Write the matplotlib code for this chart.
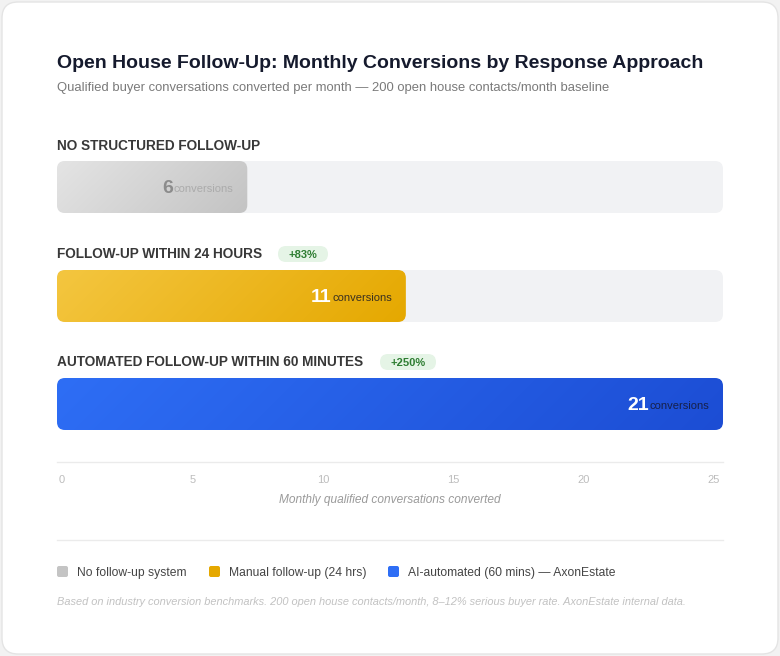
import matplotlib
matplotlib.use("Agg")
import matplotlib.pyplot as plt
import numpy as np
from matplotlib.patches import FancyBboxPatch
from matplotlib.colors import LinearSegmentedColormap

plt.rcParams['font.family'] = ['Liberation Sans', 'DejaVu Sans']

# ---------------- data ----------------
categories = ["NO STRUCTURED FOLLOW-UP", "FOLLOW-UP WITHIN 24 HOURS",
              "AUTOMATED FOLLOW-UP WITHIN 60 MINUTES"]
values = [6, 11, 21]
badges = [None, "+83%", "+250%"]
legend_labels = ["No follow-up system", "Manual follow-up (24 hrs)",
                 "AI-automated (60 mins) — AxonEstate"]
tick_values = [0, 5, 10, 15, 20, 25]

title = "Open House Follow-Up: Monthly Conversions by Response Approach"
subtitle = "Qualified buyer conversations converted per month — 200 open house contacts/month baseline"
axis_title = "Monthly qualified conversations converted"
footnote = ("Based on industry conversion benchmarks. 200 open house contacts/month, "
            "8–12% serious buyer rate. AxonEstate internal data.")

# ---------------- style ----------------
grad_colors = [("#e4e4e4", "#c3c3c3"), ("#f4c640", "#e5a800"), ("#2e6ef5", "#1c4dd4")]
num_colors = ["#8c8c8c", "#ffffff", "#ffffff"]
conv_colors = ["#ababab", "#3a3020", "#16204a"]
legend_colors = ["#c4c4c4", "#e5a800", "#2e6ef5"]
row_label_y = [145, 253, 361]
bar_top = [161, 270, 378]
bar_h = 52
pill_x = [None, (278, 328), (380, 436)]

W, H = 780, 656
fig = plt.figure(figsize=(W / 100, H / 100), dpi=100)
fig.patch.set_facecolor("#f2f2f2")

bg = fig.add_axes([0, 0, 1, 1])
bg.set_xlim(0, W)
bg.set_ylim(H, 0)
bg.axis("off")
bg.add_patch(FancyBboxPatch((2, 2), W - 4, H - 4,
                            boxstyle="round,pad=0,rounding_size=16",
                            fc="white", ec="#e4e4e4", lw=1))

bg.text(57, 61, title, fontsize=14.0, fontweight="bold", color="#151a2d",
        ha="left", va="center_baseline")
bg.text(57, 87, subtitle, fontsize=9.4, color="#7a7a7a", ha="left",
        va="center_baseline")

for i, cat in enumerate(categories):
    bg.text(57, row_label_y[i], cat, fontsize=9.85, fontweight="bold",
            color="#383838", ha="left", va="center_baseline")
    if badges[i]:
        x0, x1 = pill_x[i]
        bg.add_patch(FancyBboxPatch((x0, row_label_y[i] - 7), x1 - x0, 16,
                                    boxstyle="round,pad=0,rounding_size=8",
                                    fc="#e5f4e6", ec="none"))
        bg.text((x0 + x1) / 2, row_label_y[i] + 1, badges[i], fontsize=8,
                fontweight="bold", color="#2e7d32", ha="center",
                va="center_baseline")

# ---------------- bars ----------------
bx0, bx1 = 57, 723
vmax = max(values)
bax = fig.add_axes([bx0 / W, 0, (bx1 - bx0) / W, 1])
bax.patch.set_alpha(0)
bax.axis("off")
xs = vmax / (bx1 - bx0)  # data units per pixel
aspect = 1 / xs
rad = 8

for i, v in enumerate(values):
    top = bar_top[i]
    track = FancyBboxPatch((0, top), vmax, bar_h,
                           boxstyle=f"round,pad=0,rounding_size={rad * xs}",
                           mutation_aspect=aspect, fc="#f1f2f4", ec="none",
                           zorder=1)
    bax.add_patch(track)
    bar = FancyBboxPatch((0, top), v, bar_h,
                         boxstyle=f"round,pad=0,rounding_size={rad * xs}",
                         mutation_aspect=aspect, fc="none", ec="none",
                         zorder=1)
    bax.add_patch(bar)
    # 135deg diagonal gradient (pixel grid of the bar)
    wpx = int(round(v / xs))
    gx, gy = np.meshgrid(np.arange(wpx), np.arange(bar_h))
    grad = (gx + gy) / float(wpx + bar_h)
    cmap = LinearSegmentedColormap.from_list(f"g{i}", grad_colors[i])
    im = bax.imshow(grad, cmap=cmap, vmin=0, vmax=1,
                    extent=(0, v, top + bar_h, top), aspect="auto",
                    interpolation="bilinear", zorder=2)
    im.set_clip_path(bar)
    cy = top + bar_h / 2
    conv = bax.text(v - 14 * xs, cy + 5, "conversions", fontsize=8,
                    color=conv_colors[i], ha="right", va="baseline", zorder=3)
    bax.annotate(str(v), xy=(0, cy + 6), xycoords=(conv, bax.transData),
                 xytext=(-0.5, 0), textcoords="offset points",
                 fontsize=14, fontweight="bold", color=num_colors[i],
                 ha="right", va="baseline", zorder=3)

bax.set_xlim(0, vmax)
bax.set_ylim(H, 0)

# ---------------- axis ----------------
bg.plot([57, 723], [462, 462], color="#ebebeb", lw=1)
tax = fig.add_axes([62 / W, 0, (714 - 62) / W, 1])
tax.patch.set_alpha(0)
tax.axis("off")
tax.set_xlim(0, 25)
tax.set_ylim(H, 0)
for t in tick_values:
    tax.text(t, 479, str(t), fontsize=8, color="#bdbdbd", ha="center",
             va="center_baseline")
bg.text(390, 499, axis_title, fontsize=8.6, style="italic", color="#9a9a9a",
        ha="center", va="center_baseline")

bg.plot([57, 723], [540, 540], color="#ebebeb", lw=1)

# ---------------- legend ----------------
leg_x = [57, 209, 388]
for i, lab in enumerate(legend_labels):
    bg.add_patch(FancyBboxPatch((leg_x[i], 566), 11, 11,
                                boxstyle="round,pad=0,rounding_size=2",
                                fc=legend_colors[i], ec="none"))
    bg.text(leg_x[i] + 20, 571.5, lab, fontsize=8.7, color="#454545",
            ha="left", va="center_baseline")

bg.text(57, 601, footnote, fontsize=7.95, style="italic", color="#c2c2c2",
        ha="left", va="center_baseline")

fig.savefig("out.png", dpi=100, facecolor=fig.get_facecolor())
